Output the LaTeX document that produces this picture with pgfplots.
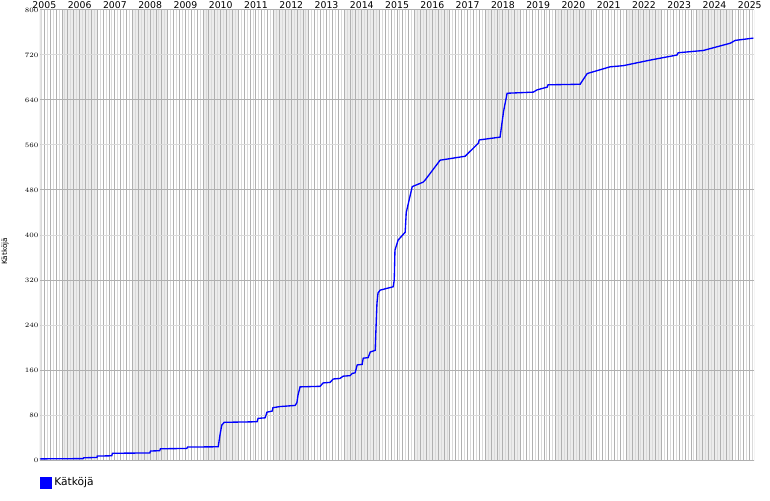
\documentclass[border=0pt]{standalone}
\usepackage{pgfplots}
\pgfplotsset{compat=1.18}
\usepackage{fontspec}
\setmainfont{DejaVu Sans}
\definecolor{gdark}{HTML}{B0B0B0}
\definecolor{glight}{HTML}{DADADA}
\definecolor{band}{HTML}{ECECEC}
\begin{document}
\begin{tikzpicture}
\useasboundingbox (-30pt,-30pt) rectangle (547.5pt,345pt);
\begin{axis}[
  at={(0,0)}, anchor=south west,
  scale only axis, width=535.5pt, height=337.5pt,
  xmin=0.376, xmax=20.62, ymin=0, ymax=800,
  axis line style={draw=none},
  xticklabel pos=upper,
  xtick={0.5,1.5,...,20.5},
  xticklabels={2005,2006,2007,2008,2009,2010,2011,2012,2013,2014,2015,2016,2017,2018,2019,2020,2021,2022,2023,2024,2025},
  xticklabel style={font=\fontsize{7}{8}\selectfont, inner sep=0pt, yshift=0.9pt},
  ytick={0,80,...,800},
  yticklabel style={font=\fontsize{5.5}{6}\selectfont, inner sep=1pt},
  major tick length=0pt,
  ylabel={Kätköjä},
  ylabel style={font=\fontsize{5.5}{6}\selectfont, at={(axis description cs:-0.049,0.464)}, anchor=center},
  legend style={at={(axis description cs:0,-0.033)}, anchor=north west, draw=none, fill=none, inner sep=0pt, font=\fontsize{8}{9}\selectfont},
  legend image code/.code={\fill[blue] (0pt,-3.75pt) rectangle (7.5pt,3.75pt);},
  legend cell align=left,
]
\fill[band] (axis cs:1,0) rectangle (axis cs:2,800);
\fill[band] (axis cs:3,0) rectangle (axis cs:4,800);
\fill[band] (axis cs:5,0) rectangle (axis cs:6,800);
\fill[band] (axis cs:7,0) rectangle (axis cs:8,800);
\fill[band] (axis cs:9,0) rectangle (axis cs:10,800);
\fill[band] (axis cs:11,0) rectangle (axis cs:12,800);
\fill[band] (axis cs:13,0) rectangle (axis cs:14,800);
\fill[band] (axis cs:15,0) rectangle (axis cs:16,800);
\fill[band] (axis cs:17,0) rectangle (axis cs:18,800);
\fill[band] (axis cs:19,0) rectangle (axis cs:20,800);
\pgfplotsinvokeforeach{0.41667,0.58333,...,20.6}{
  \draw[glight, line width=0.75pt] (axis cs:#1,0) -- (axis cs:#1,800);
}
\pgfplotsinvokeforeach{0.5,0.66667,...,20.6}{
  \draw[gdark, line width=0.75pt] (axis cs:#1,0) -- (axis cs:#1,800);
}
\pgfplotsinvokeforeach{80,240,400,560,720}{
  \draw[glight, line width=0.75pt] (axis cs:0.376,#1) -- (axis cs:20.62,#1);
}
\pgfplotsinvokeforeach{0,160,320,480,640,800}{
  \draw[gdark, line width=0.75pt] (axis cs:0.376,#1) -- (axis cs:20.62,#1);
}
\addplot[blue, line width=1pt] coordinates {
(0.376,2) (1.596,2.5) (1.62,4) (1.993,4.5) (2.00,7) (2.41,7.5) (2.43,12)
(3.49,12.5) (3.51,16) (3.77,16.5) (3.79,20) (4.54,20.5) (4.56,23)
(5.43,23.5) (5.48,45) (5.53,62) (5.60,67) (6.53,68) (6.56,74)
(6.76,75) (6.81,85) (6.96,87) (6.98,93) (7.18,95) (7.61,97)
(7.66,102) (7.69,115) (7.75,130) (8.32,131) (8.40,137) (8.60,138)
(8.69,144) (8.88,145) (8.97,149) (9.17,150) (9.23,154) (9.31,155)
(9.37,169) (9.51,170) (9.54,181) (9.68,182) (9.74,192) (9.88,195)
(9.90,230) (9.93,279) (9.96,297) (10.02,302) (10.39,308) (10.42,320)
(10.44,373) (10.50,385) (10.53,391) (10.73,405) (10.76,440) (10.93,486)
(11.24,494) (11.30,498) (11.72,533) (12.43,540) (12.80,563) (12.83,569)
(13.42,574) (13.52,620) (13.62,652) (14.36,654) (14.47,658) (14.76,663)
(14.78,667) (15.69,668) (15.89,687) (16.54,699) (16.91,701) (17.68,711)
(18.44,720) (18.47,724) (19.18,728) (19.95,741) (20.09,746) (20.60,750)
};
\addlegendentry{Kätköjä}
\draw[gdark, line width=0.75pt] (rel axis cs:0,1) -- (rel axis cs:0,0) -- ++(0,-7.5pt);
\draw[gdark, line width=0.75pt] (rel axis cs:0,0) -- (rel axis cs:1,0) -- (rel axis cs:1,1);
\end{axis}
\end{tikzpicture}
\end{document}
